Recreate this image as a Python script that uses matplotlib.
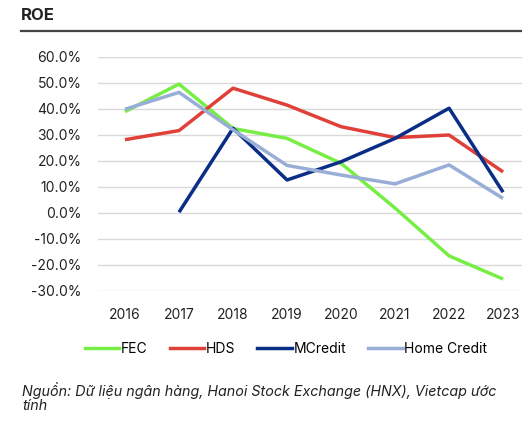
import matplotlib
matplotlib.use("Agg")
import matplotlib.pyplot as plt
from matplotlib.lines import Line2D

plt.rcParams['font.family'] = ['Inter', 'DejaVu Sans']

years = ["2016", "2017", "2018", "2019", "2020", "2021", "2022", "2023"]
fec = [39.0, 49.6, 32.5, 28.7, 19.1, 1.9, -16.5, -25.4]
hds = [28.2, 31.7, 48.0, 41.5, 33.2, 29.0, 30.0, 15.8]
mcredit = [None, 0.3, 32.6, 12.7, 19.7, 28.7, 40.3, 8.0]
home_credit = [39.9, 46.4, 32.0, 18.3, 14.6, 11.2, 18.5, 5.6]

series = [
    ("FEC", fec, "#77EE44"),
    ("HDS", hds, "#E0403A"),
    ("MCredit", mcredit, "#0A2E86"),
    ("Home Credit", home_credit, "#98AED6"),
]
yticks = [60, 50, 40, 30, 20, 10, 0, -10, -20, -30]

fig = plt.figure(figsize=(5.22, 4.21), dpi=100)
ax = fig.add_axes([98/522, (421-291)/421, 1 - 98/522, (291-57)/421])

x = list(range(len(years)))
for name, vals, col in series:
    xs = [i for i, v in zip(x, vals) if v is not None]
    ys = [v for v in vals if v is not None]
    ax.plot(xs, ys, color=col, lw=2.5, label=name, solid_capstyle='butt', zorder=3)

ax.set_xlim(-0.5, 7.35)
ax.set_ylim(-30, 60)
ax.set_yticks(yticks)
ax.set_yticklabels([f"{v:.1f}%" for v in yticks])
ax.set_xticks(x)
ax.set_xticklabels(years)
ax.tick_params(axis='both', length=0, labelsize=10, colors='#222222')
ax.tick_params(axis='y', pad=12)
ax.tick_params(axis='x', pad=12)
ax.grid(axis='y', color='#D9D9D9', lw=1)
ax.set_axisbelow(True)
for s in ax.spines.values():
    s.set_visible(False)

handles = [Line2D([0], [0], color=c, lw=2.5) for _, _, c in series]
fig.legend(handles, [n for n, _, _ in series], loc='center', bbox_to_anchor=(286/522, 1 - 349/421),
           ncol=4, frameon=False, fontsize=10, handlelength=2.5, handletextpad=0.1, columnspacing=1.6)

fig.text(21/522, 1 - 15/421, "ROE", fontsize=12, fontweight='bold', color='#222222', va='center', ha='left')
fig.add_artist(Line2D([21/522, 1.0], [1 - 31/421, 1 - 31/421], color='#444444', lw=1.6))
fig.text(22/522, 1 - 398/421, "Nguồn: Dữ liệu ngân hàng, Hanoi Stock Exchange (HNX), Vietcap ước\ntính",
         fontsize=10.3, style='italic', color='#222222', va='center', ha='left', linespacing=1.0)

fig.savefig("out.png", dpi=100)
